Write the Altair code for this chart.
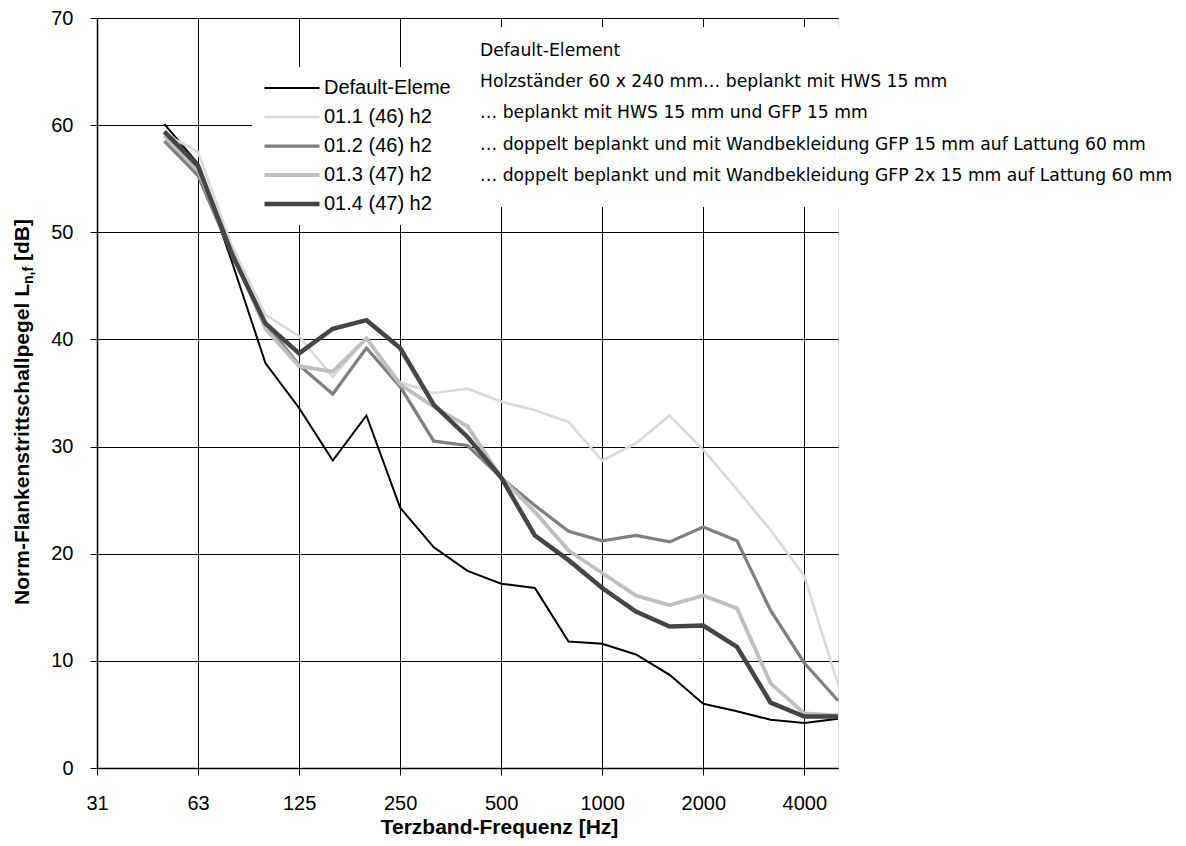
import altair as alt
import pandas as pd

# third-octave band categories of the x axis (31.5 Hz ... 5000 Hz)
bands = ["31.5", "40", "50", "63", "80", "100", "125", "160", "200", "250", "315",
         "400", "500", "630", "800", "1000", "1250", "1600", "2000", "2500", "3150",
         "4000", "5000"]
tick_bands = ["31.5", "63", "125", "250", "500", "1000", "2000", "4000"]
data_bands = ["50", "63", "80", "100", "125", "160", "200", "250", "315", "400", "500",
              "630", "800", "1000", "1250", "1600", "2000", "2500", "3150", "4000", "5000"]

series = ["Default-Element", "01.1 (46) h2", "01.2 (46) h2", "01.3 (47) h2", "01.4 (47) h2"]
colors = ["#000000", "#d9d9d9", "#808080", "#bfbfbf", "#454545"]
widths = [2, 4.5, 4.5, 4.5, 4.5]

v_default = [60.1, 56.4, 47.3, 37.8, 33.6, 28.7, 32.9, 24.3, 20.6, 18.4, 17.2,
             16.8, 11.8, 11.6, 10.6, 8.7, 6.0, 5.3, 4.5, 4.2, 4.6]
v_011 = [59.2, 57.5, 48.8, 42.3, 40.3, 36.5, 40.1, 36.0, 35.0, 35.4, 34.2,
         33.4, 32.3, 28.7, 30.3, 32.9, 29.7, 26.0, 22.2, 17.9, 7.8]
v_012 = [58.5, 55.3, 48.0, 41.5, 37.6, 34.9, 39.2, 35.6, 30.5, 30.1, 27.1,
         24.5, 22.1, 21.2, 21.7, 21.1, 22.5, 21.2, 14.7, 9.8, 6.3]
v_013 = [59.0, 55.8, 48.3, 41.0, 37.5, 37.0, 40.1, 35.8, 33.7, 31.9, 27.1,
         23.9, 20.3, 18.2, 16.1, 15.2, 16.1, 14.9, 7.9, 5.1, 4.9]
v_014 = [59.4, 56.2, 48.0, 41.5, 38.7, 41.0, 41.8, 39.2, 33.9, 30.9, 27.1,
         21.7, 19.4, 16.8, 14.6, 13.2, 13.3, 11.3, 6.1, 4.8, 4.8]

notes = [
    "Default-Element",
    "Holzständer 60 x 240 mm… beplankt mit HWS 15 mm",
    "… beplankt mit HWS 15 mm und GFP 15 mm",
    "… doppelt beplankt und mit Wandbekleidung GFP 15 mm auf Lattung 60 mm",
    "… doppelt beplankt und mit Wandbekleidung GFP 2x 15 mm auf Lattung 60 mm",
]

y_title_main = "Norm-Flankenstrittschallpegel L"
y_title_sub = "n,f"
y_title_end = "[dB]"
x_title = "Terzband-Frequenz [Hz]"

rows = []
for name, vals in zip(series, [v_default, v_011, v_012, v_013, v_014]):
    for b, v in zip(data_bands, vals):
        rows.append({"series": name, "band": b, "value": v})
df = pd.DataFrame(rows)

FONT = "Liberation Sans"

legend = alt.Legend(
    title=None, orient="none", legendX=155, legendY=49,
    fillColor="white", padding=11,
    symbolType="M-5,0H5", symbolSize=121, symbolOffset=19,
    labelFont=FONT, labelFontSize=20, labelColor="#000",
    labelOffset=22, rowPadding=9, labelLimit=400,
    labelExpr="substring(datum.label, 0, 13)",
)

x_enc = alt.X(
    "band:O",
    scale=alt.Scale(type="point", domain=bands, padding=0),
    axis=alt.Axis(
        values=tick_bands,
        labelExpr="datum.value == '31.5' ? '31' : datum.label",
        labelAngle=0, grid=True, gridColor="#000", gridWidth=1,
        tickSize=7, tickColor="#000", domainColor="#000", domainWidth=1.5,
        labelFont=FONT, labelFontSize=20, labelColor="#000", labelPadding=18,
        title=x_title, titleFont=FONT, titleFontSize=21, titleFontWeight="bold",
        titleColor="#000", titleX=402, titleY=65, titleAlign="center",
        titleBaseline="alphabetic",
    ),
)
y_enc = alt.Y(
    "value:Q",
    scale=alt.Scale(domain=[0, 70], nice=False),
    axis=alt.Axis(
        values=list(range(0, 71, 10)), title=None, grid=True, gridColor="#000",
        gridWidth=1, tickSize=7, tickColor="#000", domainColor="#000",
        domainWidth=1.5, labelFont=FONT, labelFontSize=20, labelColor="#000",
        labelPadding=17,
    ),
)

lines = alt.Chart(df).mark_line().encode(
    x=x_enc,
    y=y_enc,
    color=alt.Color("series:N", scale=alt.Scale(domain=series, range=colors), legend=legend),
    strokeWidth=alt.StrokeWidth("series:N", scale=alt.Scale(domain=series, range=widths), legend=legend),
    order=alt.Order("band_idx:Q"),
).transform_calculate(
    band_idx="indexof(" + str(bands) + ", datum.band)"
)

one = pd.DataFrame({"k": [0]})

note_box = alt.Chart(one).mark_rect(color="white").encode(
    x=alt.value(358), x2=alt.value(1089), y=alt.value(9), y2=alt.value(189)
)
note_text = alt.Chart(one).mark_text(
    text=notes, align="left", baseline="top", font="DejaVu Sans", fontSize=17.2,
    lineHeight=31.2, color="#000",
).encode(x=alt.value(383), y=alt.value(24))

yt_main = alt.Chart(one).mark_text(
    text=y_title_main, angle=270, align="right", baseline="alphabetic",
    font=FONT, fontSize=21, fontWeight="bold", color="#000",
).encode(x=alt.value(-68), y=alt.value(266))
yt_sub = alt.Chart(one).mark_text(
    text=y_title_sub, angle=270, align="left", baseline="alphabetic",
    font=FONT, fontSize=14, fontWeight="bold", color="#000",
).encode(x=alt.value(-64), y=alt.value(266))
yt_end = alt.Chart(one).mark_text(
    text=y_title_end, angle=270, align="left", baseline="alphabetic",
    font=FONT, fontSize=21, fontWeight="bold", color="#000",
).encode(x=alt.value(-68), y=alt.value(243))

chart = alt.layer(lines, note_box, note_text, yt_main, yt_sub, yt_end).properties(
    width=741, height=750,
    autosize=alt.AutoSizeParams(type="none"),
    padding={"left": 89, "top": 10, "right": 340, "bottom": 70},
).configure_view(
    stroke="#808080", strokeWidth=1.5
).configure(background="white")

chart.save("out.html", embed_options={"renderer": "svg", "actions": False})
